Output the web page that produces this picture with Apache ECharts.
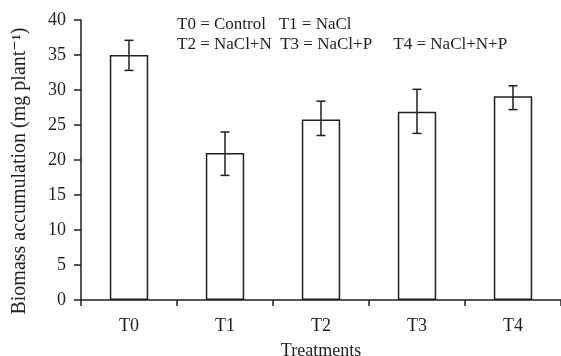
<!DOCTYPE html>
<html>
<head>
<meta charset="utf-8">
<script src="https://cdn.jsdelivr.net/npm/echarts@6/dist/echarts.min.js"></script>
<style>
  html, body { margin: 0; padding: 0; background: #fff; }
  #chart { width: 561px; height: 356px; }
</style>
</head>
<body>
<div id="chart"></div>
<script>
const categories = ['T0', 'T1', 'T2', 'T3', 'T4'];
const biomass = [35, 21, 25.8, 26.9, 29.1];
const errLow = [32.8, 17.8, 23.5, 23.8, 27.2];
const errHigh = [37.1, 24, 28.4, 30.1, 30.6];
const legendLines = [
  'T0 = Control   T1 = NaCl',
  'T2 = NaCl+N  T3 = NaCl+P     T4 = NaCl+N+P'
];

const ink = '#1e1e1e';
const font = '"Liberation Serif", "DejaVu Serif", serif';

const myChart = echarts.init(document.getElementById('chart'));

const option = {
  animation: false,
  backgroundColor: '#fff',
  textStyle: { fontFamily: font, color: ink },
  grid: { left: 81, right: 0, top: 20, bottom: 56, outerBoundsMode: 'none', containLabel: false },
  graphic: legendLines.map((t, i) => ({
    type: 'text',
    left: 177,
    top: 16 + i * 20,
    style: { text: t, font: '17px ' + font, fill: ink }
  })),
  xAxis: {
    type: 'category',
    data: categories,
    name: 'Treatments',
    nameLocation: 'middle',
    nameGap: 42,
    nameTextStyle: { fontSize: 18, color: ink, fontFamily: font },
    axisLine: { lineStyle: { color: ink, width: 1.5 } },
    axisTick: { show: true, length: 6, alignWithLabel: false, lineStyle: { color: ink, width: 1.5 } },
    axisLabel: { fontSize: 18, color: ink, margin: 17, fontFamily: font }
  },
  yAxis: {
    type: 'value',
    min: 0,
    max: 40,
    interval: 5,
    name: 'Biomass accumulation (mg plant\u207B\u00B9)',
    nameLocation: 'middle',
    nameGap: 51,
    nameTextStyle: { fontSize: 20, color: ink, fontFamily: font, padding: [0, 22, 0, 0] },
    splitLine: { show: false },
    axisLine: { show: true, lineStyle: { color: ink, width: 1.5 } },
    axisTick: { show: true, length: 7, lineStyle: { color: ink, width: 1.5 } },
    axisLabel: { fontSize: 18, color: ink, margin: 15, fontFamily: font }
  },
  series: [
    {
      type: 'bar',
      data: biomass,
      barWidth: '40%',
      itemStyle: { color: '#fff', borderColor: ink, borderWidth: 1.5 }
    },
    {
      type: 'custom',
      data: categories.map((c, i) => [i, errLow[i], errHigh[i]]),
      renderItem: function (params, api) {
        const lo = api.coord([api.value(0), api.value(1)]);
        const hi = api.coord([api.value(0), api.value(2)]);
        const w = 4.5;
        const st = { stroke: ink, lineWidth: 1.5 };
        return {
          type: 'group',
          children: [
            { type: 'line', shape: { x1: hi[0], y1: hi[1], x2: lo[0], y2: lo[1] }, style: st },
            { type: 'line', shape: { x1: hi[0] - w, y1: hi[1], x2: hi[0] + w, y2: hi[1] }, style: st },
            { type: 'line', shape: { x1: lo[0] - w, y1: lo[1], x2: lo[0] + w, y2: lo[1] }, style: st }
          ]
        };
      },
      z: 5
    }
  ]
};

myChart.setOption(option);
</script>
</body>
</html>
